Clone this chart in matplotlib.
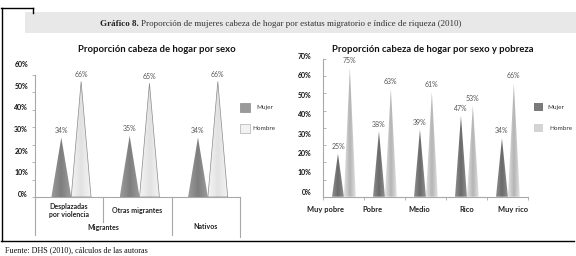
import numpy as np
import matplotlib
matplotlib.use("Agg")
import matplotlib.pyplot as plt
from matplotlib.patches import Polygon, Rectangle
from matplotlib.colors import LinearSegmentedColormap
from matplotlib.lines import Line2D
import matplotlib.transforms as mtransforms

# ---------------- data ----------------
left_categories = ["Desplazadas\npor violencia", "Otras migrantes", "Nativos"]
left_groups = ["Migrantes", "Nativos"]
left_mujer = [34, 35, 34]
left_hombre = [66, 65, 66]
left_ticklabels = ["0%", "10%", "20%", "30%", "40%", "50%", "60%"]

right_categories = ["Muy pobre", "Pobre", "Medio", "Rico", "Muy rico"]
right_mujer = [25, 38, 39, 47, 34]
right_hombre = [75, 63, 61, 53, 66]
right_ticklabels = ["0%", "10%", "20%", "30%", "40%", "50%", "60%", "70%"]

series_names = ["Mujer", "Hombre"]

W, H = 576, 256
fig = plt.figure(figsize=(W / 100, H / 100), dpi=100)
fig.patch.set_facecolor("white")

SANS = ["Lato", "DejaVu Sans"]
SERIF = ["Liberation Serif", "DejaVu Serif"]


def fx(x):
    return x / W


def fy(y):
    return 1 - y / H


# ---------------- frame and banner ----------------
fig.add_artist(Rectangle((fx(25), fy(33)), fx(551), (33 - 12) / H,
                         transform=fig.transFigure, facecolor="#e8e8e8",
                         edgecolor="none", zorder=0))
fig.add_artist(Line2D([fx(1.5), fx(1.5)], [fy(8), fy(240.5)], color="black", lw=1.0))
fig.add_artist(Line2D([fx(1), fx(33)], [fy(8), fy(8)], color="black", lw=1.0))
fig.add_artist(Line2D([fx(33), fx(33)], [fy(8), fy(12.5)], color="black", lw=1.0))
fig.add_artist(Line2D([fx(1), fx(574)], [fy(240.5), fy(240.5)], color="black", lw=1.0))

t1 = fig.text(fx(100), fy(24), "Gráfico 8.", family=SERIF, fontsize=6.5,
              fontweight="bold", va="center", ha="left", color="#222222")
renderer = fig.canvas.get_renderer()
bb = t1.get_window_extent(renderer=renderer)
fig.text(bb.x1 / fig.bbox.width + fx(2.5), fy(24),
         "Proporción de mujeres cabeza de hogar por estatus migratorio e índice de riqueza (2010)",
         family=SERIF, fontsize=6.5, va="center", ha="left", color="#333333")

fig.text(fx(5), fy(250.5), "Fuente: DHS (2010), cálculos de las autoras",
         family=SERIF, fontsize=5.9, va="center", ha="left", color="#111111")


# ---------------- helpers ----------------
def triangle(ax, x0, w, h, c_mid, c_edge, ec="none", lw=0.0):
    pts = np.array([[x0, 0], [x0 + w / 2, h], [x0 + w, 0]])
    poly = Polygon(pts, closed=True, facecolor="none", edgecolor=ec, lw=lw, zorder=3)
    ax.add_patch(poly)
    grad = np.abs(np.linspace(-1, 1, 64))[None, :]
    cmap = LinearSegmentedColormap.from_list("g", [c_mid, c_edge])
    im = ax.imshow(grad, cmap=cmap, extent=[x0, x0 + w, 0, h], aspect="auto",
                   vmin=0, vmax=1, interpolation="bilinear", zorder=2, origin="lower")
    im.set_clip_path(poly)


def label_axis(ax, ylim, ticklabels, pad):
    tw = ax.twinx()
    tw.set_ylim(*ylim)
    tw.set_yticks([10 * k for k in range(len(ticklabels))])
    tw.set_yticklabels(ticklabels)
    tw.tick_params(axis="y", left=True, right=False, labelleft=True, labelright=False,
                   length=0, pad=pad, labelsize=5, labelcolor="#111111")
    for lab in tw.get_yticklabels():
        lab.set_fontweight("bold")
        lab.set_family(SANS)
    for s in tw.spines.values():
        s.set_visible(False)
    return tw


AXC = "#a8a8a8"

# ---------------- left chart ----------------
axL = fig.add_axes([fx(35), fy(197), fx(205), 137 / H])
w = 0.29
for i in range(len(left_categories)):
    c = i + 0.03
    triangle(axL, c - w, w, left_mujer[i], "#7e7e7e", "#9c9c9c")
    triangle(axL, c, w, left_hombre[i], "#e2e2e2", "#f4f4f4", ec="#8a8a8a", lw=0.5)
    axL.annotate(f"{left_mujer[i]}%", (c - w / 2, left_mujer[i]), xytext=(0, 5.2),
                 textcoords="offset points", ha="center", va="center",
                 fontsize=5, color="#555555", family=SANS)
    axL.annotate(f"{left_hombre[i]}%", (c + w / 2, left_hombre[i]), xytext=(0, 5.2),
                 textcoords="offset points", ha="center", va="center",
                 fontsize=5, color="#555555", family=SANS)
axL.set_xlim(-0.5, len(left_categories) - 0.5)
axL.set_ylim(0, 137 / 1.75)
axL.set_facecolor("none")
for s in ["top", "right"]:
    axL.spines[s].set_visible(False)
axL.spines["left"].set_bounds(0, 70)
axL.spines["left"].set_color(AXC)
axL.spines["bottom"].set_color(AXC)
axL.spines["left"].set_linewidth(0.8)
axL.spines["bottom"].set_linewidth(0.8)
axL.set_yticks(range(0, 80, 10))
axL.set_yticklabels([])
axL.tick_params(axis="y", direction="out", length=2, color=AXC, width=0.6)
axL.set_xticks([])

trL = mtransforms.blended_transform_factory(axL.transData, axL.transAxes)
for xv, yb in [(-0.5, -0.28), (0.5, -0.185), (1.5, -0.28), (2.5, -0.29)]:
    axL.plot([xv, xv], [0, yb], color=AXC, lw=0.8, transform=trL, clip_on=False)
for i, cat in enumerate(left_categories[:2]):
    axL.text(i, -0.0985, cat, transform=trL, ha="center", va="center", fontsize=5,
             fontweight="bold", color="#222222", family=SANS, linespacing=1.25)
axL.text(0.5, -0.223, left_groups[0], transform=trL, ha="center", va="center",
         fontsize=5, fontweight="bold", color="#222222", family=SANS)
axL.text(2, -0.216, left_groups[1], transform=trL, ha="center", va="center",
         fontsize=5, fontweight="bold", color="#222222", family=SANS)

label_axis(axL, (-3 / 2.167, 134 / 2.167), left_ticklabels, 5)

fig.text(fx(157), fy(50), "Proporción cabeza de hogar por sexo", family=SANS,
         fontsize=6.8, fontweight="bold", ha="center", va="center", color="#111111")

# legend left
for k, (yc, fc, ec) in enumerate([(107, "#9a9a9a", "#8a8a8a"), (128, "#f2f2f2", "#b0b0b0")]):
    fig.add_artist(Rectangle((fx(239.5), fy(yc + 4.5)), fx(10), 9 / H,
                             transform=fig.transFigure, facecolor=fc, edgecolor=ec, lw=0.5))
fig.text(fx(265), fy(107), series_names[0], family=SANS, fontsize=4.6,
         ha="center", va="center", color="#333333")
fig.text(fx(264), fy(128), series_names[1], family=SANS, fontsize=4.6,
         ha="center", va="center", color="#333333")

# ---------------- right chart ----------------
axR = fig.add_axes([fx(323), fy(196.7), fx(205), 141.7 / H])
for i in range(len(right_categories)):
    c = i + 0.01
    triangle(axR, c - w, w, right_mujer[i], "#6a6a6a", "#8e8e8e")
    triangle(axR, c, w, right_hombre[i], "#b4b4b4", "#e2e2e2")
    axR.annotate(f"{right_mujer[i]}%", (c - w / 2, right_mujer[i]), xytext=(0, 5.2),
                 textcoords="offset points", ha="center", va="center",
                 fontsize=5, color="#555555", family=SANS)
    axR.annotate(f"{right_hombre[i]}%", (c + w / 2, right_hombre[i]), xytext=(0, 5.2),
                 textcoords="offset points", ha="center", va="center",
                 fontsize=5, color="#555555", family=SANS)
axR.set_xlim(-0.5, len(right_categories) - 0.5)
axR.set_ylim(0, 141.7 / 1.72)
axR.set_facecolor("none")
for s in ["top", "right"]:
    axR.spines[s].set_visible(False)
axR.spines["left"].set_bounds(0, 80)
for s in ["left", "bottom"]:
    axR.spines[s].set_color(AXC)
    axR.spines[s].set_linewidth(0.8)
axR.set_yticks(range(0, 90, 10))
axR.set_yticklabels([])
axR.tick_params(axis="y", direction="in", length=2.2, color=AXC, width=0.6)
axR.set_xticks(np.arange(-0.5, len(right_categories), 1.0))
axR.set_xticklabels([])
axR.tick_params(axis="x", direction="out", length=2.5, color=AXC, width=0.6)

trR = mtransforms.blended_transform_factory(axR.transData, axR.transAxes)
for i, cat in enumerate(right_categories):
    axR.text(i - 0.44 + 0.146 * i, -0.089, cat, transform=trR, ha="center", va="center",
             fontsize=5.4, fontweight="bold", color="#222222", family=SANS)

label_axis(axR, (-5 / 1.939, 136.7 / 1.939), right_ticklabels, 8)

fig.text(fx(433), fy(49), "Proporción cabeza de hogar por sexo y pobreza", family=SANS,
         fontsize=6.8, fontweight="bold", ha="center", va="center", color="#111111")

for yc, fc in [(107, "#7a7a7a"), (128, "#d4d4d4")]:
    fig.add_artist(Rectangle((fx(534.3), fy(yc + 4.3)), fx(8.4), 8.6 / H,
                             transform=fig.transFigure, facecolor=fc, edgecolor="none"))
fig.text(fx(547), fy(107), series_names[0], family=SANS, fontsize=4.6,
         ha="left", va="center", color="#333333")
fig.text(fx(549), fy(128), series_names[1], family=SANS, fontsize=4.6,
         ha="left", va="center", color="#333333")

fig.savefig("out.png", dpi=100, facecolor="white")
